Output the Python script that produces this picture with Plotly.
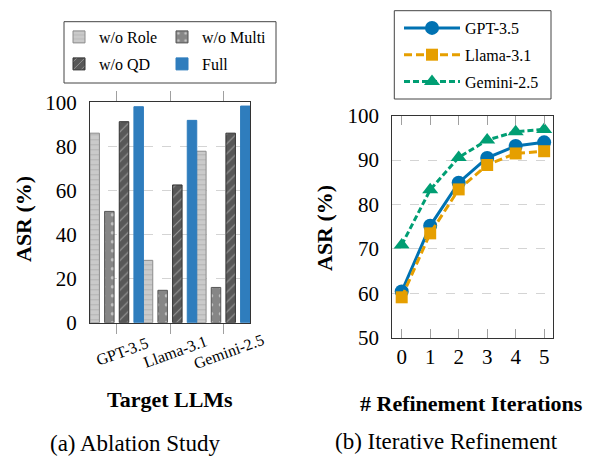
import plotly.graph_objects as go

W, H = 595, 459
FONT = "Liberation Serif"

# ---- data: (a) ablation study ----
llms = ["GPT-3.5", "Llama-3.1", "Gemini-2.5"]
wo_role = [86, 28.3, 77.8]
wo_multi = [50.5, 14.7, 16]
wo_qd = [91.2, 62.5, 86]
full = [98, 91.8, 98.3]

# ---- data: (b) iterative refinement ----
iterations = [0, 1, 2, 3, 4, 5]
gpt35 = [60.4, 75.2, 84.9, 90.5, 93.2, 94.0]
llama31 = [59.1, 73.5, 83.4, 88.9, 91.5, 92.0]
gemini25 = [70.9, 83.3, 90.6, 94.5, 96.4, 96.9]


def px(x):
    return x / W


def py(y):
    return 1 - y / H


fig = go.Figure()

xpos = list(range(len(llms)))
bw = 0.178
centers = [-0.4125, -0.1375, 0.1375, 0.4125]
bar_specs = [
    ("w/o Role", wo_role, dict(color="#cacaca", line=dict(color="#8c8c8c", width=1),
                               pattern=dict(shape="-", fgcolor="#9c9c9c", size=5, solidity=0.2)), "legend"),
    ("w/o Multi", wo_multi, dict(color="#868686", line=dict(color="#555555", width=1),
                                 pattern=dict(shape=".", fgcolor="#ffffff", size=9, solidity=0.12)), "legend"),
    ("w/o QD", wo_qd, dict(color="#585858", line=dict(color="#333333", width=1),
                           pattern=dict(shape="/", fgcolor="#dddddd", size=7, solidity=0.15)), "legend3"),
    ("Full", full, dict(color="#2f7dbd", line=dict(color="#2f7dbd", width=1)), "legend3"),
]
for (name, vals, marker, lg), c in zip(bar_specs, centers):
    fig.add_trace(go.Bar(
        x=xpos, y=vals, name=name, marker=marker,
        width=bw, offset=c - bw / 2,
        xaxis="x", yaxis="y", legend=lg,
    ))

line_specs = [
    ("GPT-3.5", gpt35, "#0072B2", "solid", "circle", 14),
    ("Llama-3.1", llama31, "#E69F00", "8px,4px", "square", 12),
    ("Gemini-2.5", gemini25, "#009E73", "6px,3px", "triangle-up", 14),
]
for name, vals, col, dash, sym, sz in line_specs:
    fig.add_trace(go.Scatter(
        x=iterations, y=vals, name=name, mode="lines+markers",
        line=dict(color=col, width=3, dash=dash),
        marker=dict(color=col, symbol=sym, size=sz),
        xaxis="x2", yaxis="y2", legend="legend2", legendgroup=name, cliponaxis=False,
    ))

tickfont = dict(family=FONT, size=21, color="black")

annotations = []
for i, lab in enumerate(llms):
    annotations.append(dict(
        text=lab, x=i + 0.1, xref="x", y=py(351), yref="paper",
        xanchor="center", yanchor="middle", textangle=-20, showarrow=False,
        font=dict(family=FONT, size=16, color="black"),
    ))

def label(text, x, y, size, bold=False, angle=0):
    t = f"<b>{text}</b>" if bold else text
    annotations.append(dict(
        text=t, x=px(x), y=py(y), xref="paper", yref="paper",
        xanchor="center", yanchor="middle", textangle=angle, showarrow=False,
        font=dict(family=FONT, size=size, color="black"),
    ))

label("ASR (%)", 23, 219, 22, True, -90)
label("ASR (%)", 324, 228, 22, True, -90)
label("Target LLMs", 170, 399, 22, True)
label("# Refinement Iterations", 471, 403, 22, True)
label("(a) Ablation Study", 135, 443, 23)
label("(b) Iterative Refinement", 446, 441, 23)

shapes = [
    dict(type="rect", xref="paper", yref="paper", x0=px(64), x1=px(276), y0=py(21.7), y1=py(83),
         line=dict(color="#444444", width=1), fillcolor="rgba(0,0,0,0)"),
    dict(type="rect", xref="paper", yref="paper", x0=px(394.3), x1=px(551), y0=py(10.7), y1=py(99),
         line=dict(color="#444444", width=1), fillcolor="rgba(0,0,0,0)"),
]

legfont = dict(family=FONT, size=16, color="black")

fig.update_layout(
    width=W, height=H, margin=dict(l=0, r=0, t=0, b=0, autoexpand=False),
    paper_bgcolor="white", plot_bgcolor="white",
    barmode="overlay", showlegend=True,
    font=dict(family=FONT, color="black"),
    xaxis=dict(domain=[px(90), px(250)], range=[-0.5, 2.5], tickvals=xpos,
               showticklabels=False, ticks="outside", ticklen=10, tickcolor="#a0a0a0",
               showline=True, linecolor="#333333", mirror="ticks", showgrid=False, zeroline=False),
    yaxis=dict(domain=[py(322.7), py(102.3)], range=[0, 100], tickvals=[0, 20, 40, 60, 80, 100],
               ticks="", showline=True, linecolor="#333333", mirror=True,
               showgrid=True, gridcolor="#d4d4d4", griddash="dash", gridwidth=1,
               zeroline=False, tickfont=tickfont, ticklabelstandoff=8),
    xaxis2=dict(domain=[px(392.3), px(552.7)], range=[-0.33, 5.3], tickvals=iterations,
                ticks="inside", ticklen=9, tickcolor="#a0a0a0",
                showline=True, linecolor="#333333", mirror="ticks", showgrid=False, zeroline=False,
                tickfont=tickfont, anchor="y2"),
    yaxis2=dict(domain=[py(337.7), py(115.7)], range=[50, 100], tickvals=[50, 60, 70, 80, 90, 100],
                ticks="", showline=True, linecolor="#333333", mirror=True,
                showgrid=True, gridcolor="#d4d4d4", griddash="dash", gridwidth=1,
                zeroline=False, tickfont=tickfont, ticklabelstandoff=8, anchor="x2"),
    legend=dict(orientation="h", x=px(59), y=py(20), xanchor="left", yanchor="top",
                entrywidth=58, font=legfont, bgcolor="rgba(0,0,0,0)", borderwidth=0,
                traceorder="normal"),
    legend3=dict(orientation="h", x=px(59), y=py(47), xanchor="left", yanchor="top",
                 entrywidth=58, font=legfont, bgcolor="rgba(0,0,0,0)", borderwidth=0,
                 traceorder="normal"),
    legend2=dict(orientation="v", x=px(399), y=py(11), xanchor="left", yanchor="top",
                 itemwidth=56, font=legfont, bgcolor="rgba(0,0,0,0)", borderwidth=0,
                 traceorder="grouped", tracegroupgap=3),
    annotations=annotations, shapes=shapes,
)

fig.write_html(
    "out.html",
    config={"displayModeBar": False},
    post_script="document.body.style.margin='0';document.body.style.overflow='hidden';",
)
